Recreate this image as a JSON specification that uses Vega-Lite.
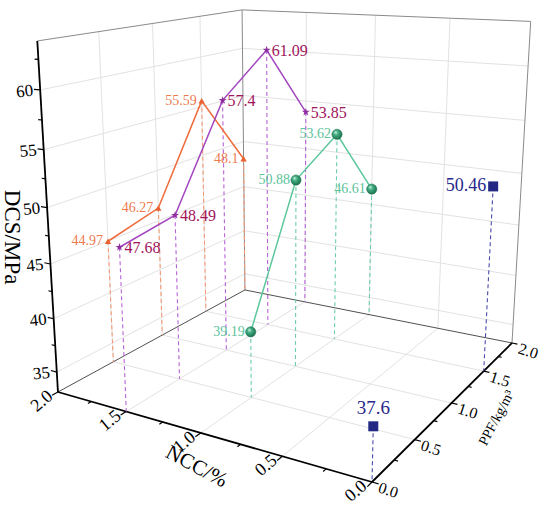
{
  "$schema": "https://vega.github.io/schema/vega-lite/v6.json",
  "width": 550,
  "height": 510,
  "autosize": "none",
  "padding": 0,
  "background": "white",
  "config": {"view": {"stroke": null}, "font": "Liberation Serif", "text": {"font": "Liberation Serif"}},
  "datasets": {
    "series": [
      {"s": "2.0", "ncc": 2, "ppf": 0.5, "dcs": 44.97},
      {"s": "2.0", "ncc": 2, "ppf": 1.0, "dcs": 46.27},
      {"s": "2.0", "ncc": 2, "ppf": 1.5, "dcs": 55.59},
      {"s": "2.0", "ncc": 2, "ppf": 2.0, "dcs": 48.1},
      {"s": "1.5", "ncc": 1.5, "ppf": 0, "dcs": 47.68},
      {"s": "1.5", "ncc": 1.5, "ppf": 0.5, "dcs": 48.49},
      {"s": "1.5", "ncc": 1.5, "ppf": 1.0, "dcs": 57.4},
      {"s": "1.5", "ncc": 1.5, "ppf": 1.5, "dcs": 61.09},
      {"s": "1.5", "ncc": 1.5, "ppf": 2.0, "dcs": 53.85},
      {"s": "1.0", "ncc": 1, "ppf": 0.5, "dcs": 39.19},
      {"s": "1.0", "ncc": 1, "ppf": 1.0, "dcs": 50.88},
      {"s": "1.0", "ncc": 1, "ppf": 1.5, "dcs": 53.62},
      {"s": "1.0", "ncc": 1, "ppf": 2.0, "dcs": 46.61},
      {"s": "0", "ncc": 0, "ppf": 0, "dcs": 37.6},
      {"s": "0", "ncc": 0, "ppf": 1.5, "dcs": 50.46}
    ],
    "frame": [
      {"k": "grid", "n1": 0.5, "p1": 0, "z1": 33.1, "n2": 0.5, "p2": 2, "z2": 33.1},
      {"k": "grid", "n1": 1.0, "p1": 0, "z1": 33.1, "n2": 1.0, "p2": 2, "z2": 33.1},
      {"k": "grid", "n1": 1.5, "p1": 0, "z1": 33.1, "n2": 1.5, "p2": 2, "z2": 33.1},
      {"k": "grid", "n1": 0, "p1": 0.5, "z1": 33.1, "n2": 2, "p2": 0.5, "z2": 33.1},
      {"k": "grid", "n1": 0, "p1": 1.0, "z1": 33.1, "n2": 2, "p2": 1.0, "z2": 33.1},
      {"k": "grid", "n1": 0, "p1": 1.5, "z1": 33.1, "n2": 2, "p2": 1.5, "z2": 33.1},
      {"k": "grid", "n1": 2, "p1": 0, "z1": 35, "n2": 2, "p2": 2, "z2": 35},
      {"k": "grid", "n1": 2, "p1": 0, "z1": 40, "n2": 2, "p2": 2, "z2": 40},
      {"k": "grid", "n1": 2, "p1": 0, "z1": 45, "n2": 2, "p2": 2, "z2": 45},
      {"k": "grid", "n1": 2, "p1": 0, "z1": 50, "n2": 2, "p2": 2, "z2": 50},
      {"k": "grid", "n1": 2, "p1": 0, "z1": 55, "n2": 2, "p2": 2, "z2": 55},
      {"k": "grid", "n1": 2, "p1": 0, "z1": 60, "n2": 2, "p2": 2, "z2": 60},
      {"k": "grid", "n1": 2, "p1": 0.5, "z1": 33.1, "n2": 2, "p2": 0.5, "z2": 64},
      {"k": "grid", "n1": 2, "p1": 1.0, "z1": 33.1, "n2": 2, "p2": 1.0, "z2": 64},
      {"k": "grid", "n1": 2, "p1": 1.5, "z1": 33.1, "n2": 2, "p2": 1.5, "z2": 64},
      {"k": "grid", "n1": 0, "p1": 2, "z1": 35, "n2": 2, "p2": 2, "z2": 35},
      {"k": "grid", "n1": 0, "p1": 2, "z1": 40, "n2": 2, "p2": 2, "z2": 40},
      {"k": "grid", "n1": 0, "p1": 2, "z1": 45, "n2": 2, "p2": 2, "z2": 45},
      {"k": "grid", "n1": 0, "p1": 2, "z1": 50, "n2": 2, "p2": 2, "z2": 50},
      {"k": "grid", "n1": 0, "p1": 2, "z1": 55, "n2": 2, "p2": 2, "z2": 55},
      {"k": "grid", "n1": 0, "p1": 2, "z1": 60, "n2": 2, "p2": 2, "z2": 60},
      {"k": "grid", "n1": 0.5, "p1": 2, "z1": 33.1, "n2": 0.5, "p2": 2, "z2": 64},
      {"k": "grid", "n1": 1.0, "p1": 2, "z1": 33.1, "n2": 1.0, "p2": 2, "z2": 64},
      {"k": "grid", "n1": 1.5, "p1": 2, "z1": 33.1, "n2": 1.5, "p2": 2, "z2": 64},
      {"k": "edge", "n1": 2, "p1": 2, "z1": 33.1, "n2": 2, "p2": 2, "z2": 64},
      {"k": "edge", "n1": 0, "p1": 2, "z1": 33.1, "n2": 0, "p2": 2, "z2": 64},
      {"k": "edge", "n1": 2, "p1": 0, "z1": 64, "n2": 2, "p2": 2, "z2": 64},
      {"k": "edge", "n1": 2, "p1": 2, "z1": 64, "n2": 0, "p2": 2, "z2": 64},
      {"k": "floor", "n1": 2, "p1": 0, "z1": 33.1, "n2": 2, "p2": 2, "z2": 33.1},
      {"k": "floor", "n1": 2, "p1": 2, "z1": 33.1, "n2": 0, "p2": 2, "z2": 33.1},
      {"k": "axis", "n1": 0, "p1": 0, "z1": 33.1, "n2": 2, "p2": 0, "z2": 33.1},
      {"k": "axis", "n1": 0, "p1": 0, "z1": 33.1, "n2": 0, "p2": 2, "z2": 33.1},
      {"k": "axis", "n1": 2, "p1": 0, "z1": 33.1, "n2": 2, "p2": 0, "z2": 64}
    ],
    "ticks": [
      {"a": "dcs", "t": 35, "m": true}, {"a": "dcs", "t": 37.5, "m": false},
      {"a": "dcs", "t": 40, "m": true}, {"a": "dcs", "t": 42.5, "m": false},
      {"a": "dcs", "t": 45, "m": true}, {"a": "dcs", "t": 47.5, "m": false},
      {"a": "dcs", "t": 50, "m": true}, {"a": "dcs", "t": 52.5, "m": false},
      {"a": "dcs", "t": 55, "m": true}, {"a": "dcs", "t": 57.5, "m": false},
      {"a": "dcs", "t": 60, "m": true}, {"a": "dcs", "t": 62.5, "m": false},
      {"a": "ncc", "t": 0, "m": true}, {"a": "ncc", "t": 0.25, "m": false},
      {"a": "ncc", "t": 0.5, "m": true}, {"a": "ncc", "t": 0.75, "m": false},
      {"a": "ncc", "t": 1.0, "m": true}, {"a": "ncc", "t": 1.25, "m": false},
      {"a": "ncc", "t": 1.5, "m": true}, {"a": "ncc", "t": 1.75, "m": false},
      {"a": "ncc", "t": 2.0, "m": true},
      {"a": "ppf", "t": 0, "m": true}, {"a": "ppf", "t": 0.25, "m": false},
      {"a": "ppf", "t": 0.5, "m": true}, {"a": "ppf", "t": 0.75, "m": false},
      {"a": "ppf", "t": 1.0, "m": true}, {"a": "ppf", "t": 1.25, "m": false},
      {"a": "ppf", "t": 1.5, "m": true}, {"a": "ppf", "t": 1.75, "m": false},
      {"a": "ppf", "t": 2.0, "m": true}
    ],
    "titles": [
      {"t": "DCS/MPa", "n1": 2, "p1": 0, "z1": 48.55},
      {"t": "NCC/%", "n1": 1, "p1": 0, "z1": 33.1},
      {"t": "PPF/kg/m³", "n1": 0, "p1": 1, "z1": 33.1}
    ]
  },
  "encoding": {
    "x": {"field": "X", "type": "quantitative", "scale": {"domain": [0, 550], "nice": false, "zero": false}, "axis": null},
    "y": {"field": "Y", "type": "quantitative", "scale": {"domain": [0, 510], "nice": false, "zero": false, "reverse": true}, "axis": null}
  },
  "layer": [
    {
      "data": {"name": "frame"},
      "transform": [
        {"calculate": "datum.n1/2", "as": "u1"},
        {"calculate": "datum.p1/2", "as": "v1"},
        {"calculate": "(datum.z1-33.1)/30.9", "as": "w1"},
        {"calculate": "1+0.199*datum.u1+0.315*datum.v1-0.1*datum.w1", "as": "d1"},
        {"calculate": "(372-302.5*datum.u1+301.3*datum.v1-28.5*datum.w1)/datum.d1", "as": "X"},
        {"calculate": "(482-12*datum.u1-31*datum.v1-425*datum.w1)/datum.d1", "as": "Y"},
        {"calculate": "datum.n2/2", "as": "u2"},
        {"calculate": "datum.p2/2", "as": "v2"},
        {"calculate": "(datum.z2-33.1)/30.9", "as": "w2"},
        {"calculate": "1+0.199*datum.u2+0.315*datum.v2-0.1*datum.w2", "as": "d2"},
        {"calculate": "(372-302.5*datum.u2+301.3*datum.v2-28.5*datum.w2)/datum.d2", "as": "X2"},
        {"calculate": "(482-12*datum.u2-31*datum.v2-425*datum.w2)/datum.d2", "as": "Y2"}
      ],
      "layer": [
        {
          "transform": [{"filter": "datum.k == 'grid'"}],
          "mark": {"type": "rule", "color": "#e2e2e2", "strokeWidth": 1},
          "encoding": {"x2": {"field": "X2"}, "y2": {"field": "Y2"}}
        },
        {
          "transform": [{"filter": "datum.k == 'edge'"}],
          "mark": {"type": "rule", "color": "#8a8a8a", "strokeWidth": 1},
          "encoding": {"x2": {"field": "X2"}, "y2": {"field": "Y2"}}
        },
        {
          "transform": [{"filter": "datum.k == 'floor'"}],
          "mark": {"type": "rule", "color": "#3c3c3c", "strokeWidth": 0.9},
          "encoding": {"x2": {"field": "X2"}, "y2": {"field": "Y2"}}
        },
        {
          "transform": [{"filter": "datum.k == 'axis'"}],
          "mark": {"type": "rule", "color": "#000000", "strokeWidth": 1.8},
          "encoding": {"x2": {"field": "X2"}, "y2": {"field": "Y2"}}
        }
      ]
    },
    {
      "data": {"name": "ticks"},
      "transform": [
        {"calculate": "datum.a == 'ncc' ? datum.t : (datum.a == 'dcs' ? 2 : 0)", "as": "n1"},
        {"calculate": "datum.a == 'ppf' ? datum.t : 0", "as": "p1"},
        {"calculate": "datum.a == 'dcs' ? datum.t : 33.1", "as": "z1"},
        {"calculate": "datum.m ? 1 : 0.6", "as": "L"},
        {"calculate": "datum.a == 'dcs' ? 2 + 0.045*datum.L : (datum.a == 'ppf' ? -0.035*datum.L : datum.n1)", "as": "n2"},
        {"calculate": "datum.a == 'ncc' ? -0.05*datum.L : datum.p1", "as": "p2"},
        {"calculate": "datum.n1/2", "as": "u1"},
        {"calculate": "datum.p1/2", "as": "v1"},
        {"calculate": "(datum.z1-33.1)/30.9", "as": "w1"},
        {"calculate": "1+0.199*datum.u1+0.315*datum.v1-0.1*datum.w1", "as": "d1"},
        {"calculate": "(372-302.5*datum.u1+301.3*datum.v1-28.5*datum.w1)/datum.d1", "as": "X"},
        {"calculate": "(482-12*datum.u1-31*datum.v1-425*datum.w1)/datum.d1", "as": "Y"},
        {"calculate": "datum.n2/2", "as": "u2"},
        {"calculate": "datum.p2/2", "as": "v2"},
        {"calculate": "1+0.199*datum.u2+0.315*datum.v2-0.1*datum.w1", "as": "d2"},
        {"calculate": "(372-302.5*datum.u2+301.3*datum.v2-28.5*datum.w1)/datum.d2", "as": "X2"},
        {"calculate": "(482-12*datum.u2-31*datum.v2-425*datum.w1)/datum.d2", "as": "Y2"}
      ],
      "layer": [
        {
          "mark": {"type": "rule", "color": "#000000", "strokeWidth": 1.2},
          "encoding": {"x2": {"field": "X2"}, "y2": {"field": "Y2"}}
        },
        {
          "transform": [{"filter": "datum.m && datum.a == 'dcs'"}],
          "mark": {"type": "text", "font": "Liberation Serif", "align": "right", "baseline": "middle", "angle": -6, "dx": -7, "fontSize": 17, "color": "#000000"},
          "encoding": {"text": {"field": "t", "type": "quantitative", "format": "d"}}
        },
        {
          "transform": [{"filter": "datum.m && datum.a == 'ncc'"}],
          "mark": {"type": "text", "font": "Liberation Serif", "align": "right", "baseline": "middle", "angle": -40, "dx": -7, "dy": -3, "fontSize": 18, "color": "#000000"},
          "encoding": {"text": {"field": "t", "type": "quantitative", "format": ".1f"}}
        },
        {
          "transform": [{"filter": "datum.m && datum.a == 'ppf'"}],
          "mark": {"type": "text", "font": "Liberation Serif", "align": "left", "baseline": "middle", "angle": 18, "dx": 8, "dy": 3, "fontSize": 16, "color": "#000000"},
          "encoding": {"text": {"field": "t", "type": "quantitative", "format": ".1f"}}
        }
      ]
    },
    {
      "data": {"name": "titles"},
      "transform": [
        {"calculate": "datum.n1/2", "as": "u1"},
        {"calculate": "datum.p1/2", "as": "v1"},
        {"calculate": "(datum.z1-33.1)/30.9", "as": "w1"},
        {"calculate": "1+0.199*datum.u1+0.315*datum.v1-0.1*datum.w1", "as": "d1"},
        {"calculate": "(372-302.5*datum.u1+301.3*datum.v1-28.5*datum.w1)/datum.d1", "as": "X"},
        {"calculate": "(482-12*datum.u1-31*datum.v1-425*datum.w1)/datum.d1", "as": "Y"}
      ],
      "layer": [
        {
          "transform": [{"filter": "datum.t == 'DCS/MPa'"}],
          "mark": {"type": "text", "font": "Liberation Serif", "align": "center", "baseline": "middle", "angle": 90, "dx": 13, "dy": 36, "fontSize": 23, "color": "#000000"},
          "encoding": {"text": {"field": "t"}}
        },
        {
          "transform": [{"filter": "datum.t == 'NCC/%'"}],
          "mark": {"type": "text", "font": "Liberation Serif", "align": "center", "baseline": "middle", "angle": 28, "dx": 12, "dy": 32, "fontSize": 21, "color": "#000000"},
          "encoding": {"text": {"field": "t"}}
        },
        {
          "transform": [{"filter": "datum.t == 'PPF/kg/m³'"}],
          "mark": {"type": "text", "font": "Liberation Serif", "align": "center", "baseline": "middle", "angle": -62, "dx": 8, "dy": 47, "fontSize": 14, "color": "#000000"},
          "encoding": {"text": {"field": "t"}}
        }
      ]
    },
    {
      "data": {"name": "series"},
      "transform": [
        {"calculate": "datum.ncc/2", "as": "u"},
        {"calculate": "datum.ppf/2", "as": "v"},
        {"calculate": "(datum.dcs-33.1)/30.9", "as": "w"},
        {"calculate": "1+0.199*datum.u+0.315*datum.v-0.1*datum.w", "as": "d"},
        {"calculate": "(372-302.5*datum.u+301.3*datum.v-28.5*datum.w)/datum.d", "as": "X"},
        {"calculate": "(482-12*datum.u-31*datum.v-425*datum.w)/datum.d", "as": "Y"},
        {"calculate": "1+0.199*datum.u+0.315*datum.v", "as": "d0"},
        {"calculate": "(372-302.5*datum.u+301.3*datum.v)/datum.d0", "as": "X2"},
        {"calculate": "(482-12*datum.u-31*datum.v)/datum.d0", "as": "Y2"}
      ],
      "layer": [
        {
          "mark": {"type": "rule", "strokeDash": [4, 3], "strokeWidth": 1.1},
          "encoding": {
            "x2": {"field": "X2"},
            "y2": {"field": "Y2"},
            "color": {"field": "s", "type": "nominal", "scale": {"domain": ["2.0", "1.5", "1.0", "0"], "range": ["#f39a72", "#b863d6", "#6dcdac", "#4a4aa8"]}, "legend": null}
          }
        },
        {
          "transform": [{"filter": "datum.s == '2.0'"}],
          "mark": {"type": "line", "color": "#ef6c3c", "strokeWidth": 1.5},
          "encoding": {"order": {"field": "ppf", "type": "quantitative"}}
        },
        {
          "transform": [{"filter": "datum.s == '1.5'"}],
          "mark": {"type": "line", "color": "#a346bf", "strokeWidth": 1.5},
          "encoding": {"order": {"field": "ppf", "type": "quantitative"}}
        },
        {
          "transform": [{"filter": "datum.s == '1.0'"}],
          "mark": {"type": "line", "color": "#5cc79d", "strokeWidth": 1.5},
          "encoding": {"order": {"field": "ppf", "type": "quantitative"}}
        },
        {
          "transform": [{"filter": "datum.s == '2.0'"}],
          "mark": {"type": "point", "shape": "triangle-up", "filled": true, "size": 40, "color": "#e8612f", "opacity": 1}
        },
        {
          "transform": [{"filter": "datum.s == '1.5'"}],
          "mark": {"type": "point", "shape": "M0,-1L0.2245,-0.309L0.951,-0.309L0.363,0.118L0.588,0.809L0,0.382L-0.588,0.809L-0.363,0.118L-0.951,-0.309L-0.2245,-0.309Z", "filled": true, "size": 70, "color": "#8e2d9e", "opacity": 1}
        },
        {
          "transform": [{"filter": "datum.s == '1.0'"}],
          "mark": {
            "type": "point", "shape": "circle", "filled": true, "size": 105, "opacity": 1,
            "fill": {"gradient": "radial", "x1": 0.35, "y1": 0.3, "r1": 0, "x2": 0.45, "y2": 0.45, "r2": 0.6,
              "stops": [{"offset": 0, "color": "#e4f7ee"}, {"offset": 0.35, "color": "#45b185"}, {"offset": 1, "color": "#186a47"}]},
            "stroke": "#1f7550", "strokeWidth": 0.5
          }
        },
        {
          "transform": [{"filter": "datum.s == '0'"}],
          "mark": {"type": "point", "shape": "square", "filled": true, "size": 100, "color": "#232884", "opacity": 1}
        },
        {
          "transform": [{"filter": "datum.s == '2.0'"}],
          "mark": {"type": "text", "font": "Liberation Serif", "align": "right", "baseline": "middle", "dx": -5, "fontSize": 14, "color": "#ee7a4e"},
          "encoding": {"text": {"field": "dcs", "type": "nominal"}}
        },
        {
          "transform": [{"filter": "datum.s == '1.5'"}],
          "mark": {"type": "text", "font": "Liberation Serif", "align": "left", "baseline": "middle", "dx": 5, "dy": 1, "fontSize": 16, "color": "#a0145c"},
          "encoding": {"text": {"field": "dcs", "type": "nominal"}}
        },
        {
          "transform": [{"filter": "datum.s == '1.0'"}],
          "mark": {"type": "text", "font": "Liberation Serif", "align": "right", "baseline": "middle", "dx": -6, "fontSize": 14, "color": "#5cc39a"},
          "encoding": {"text": {"field": "dcs", "type": "nominal"}}
        },
        {
          "transform": [{"filter": "datum.s == '0' && datum.ppf > 0"}],
          "mark": {"type": "text", "font": "Liberation Serif", "align": "right", "baseline": "middle", "dx": -7, "fontSize": 18, "color": "#28288c"},
          "encoding": {"text": {"field": "dcs", "type": "nominal"}}
        },
        {
          "transform": [{"filter": "datum.s == '0' && datum.ppf == 0"}],
          "mark": {"type": "text", "font": "Liberation Serif", "align": "center", "baseline": "bottom", "dy": -8, "fontSize": 19, "color": "#28288c"},
          "encoding": {"text": {"field": "dcs", "type": "nominal"}}
        }
      ]
    }
  ]
}
